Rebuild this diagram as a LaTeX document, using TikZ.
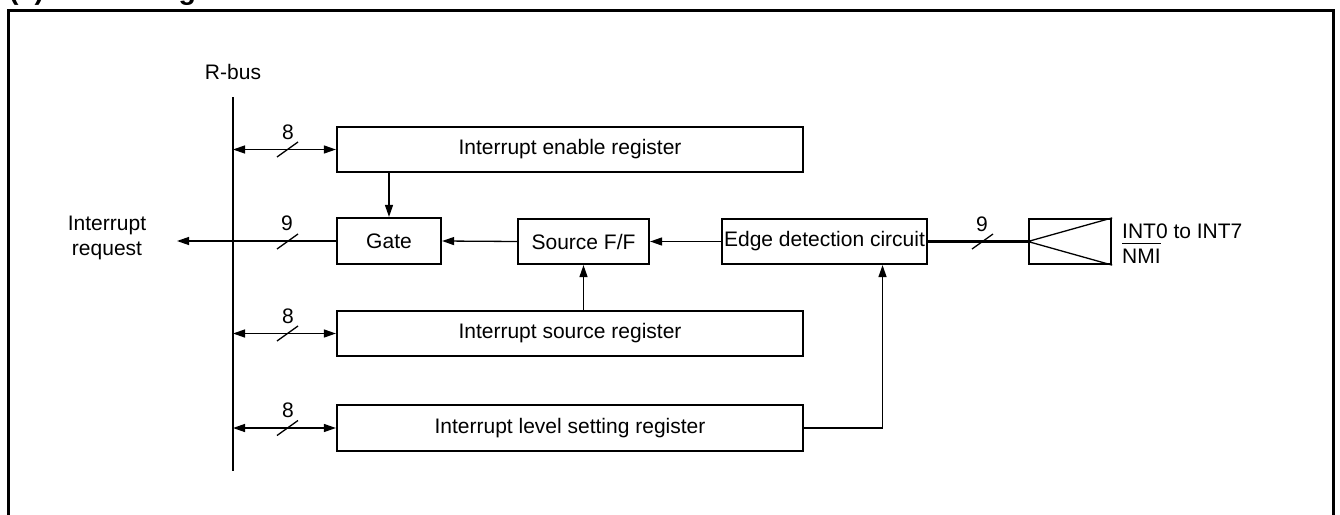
\documentclass[tikz,border=0pt]{standalone}
\usepackage{fontspec}
\setmainfont{Liberation Sans}
\usetikzlibrary{arrows.meta,calc}
\begin{document}
\begin{tikzpicture}[x=1pt,y=-1pt,
  txt/.style={font=\fontsize{21}{25.5}\selectfont},
  box/.style={draw, line width=2.2pt, inner sep=0pt, txt},
  conn/.style={line width=1.3pt},
  arr/.style={conn, -{Triangle[length=12pt,width=8pt]}},
  darr/.style={conn, {Triangle[length=12pt,width=8pt]}-{Triangle[length=12pt,width=8pt]}},
  lbl/.style={txt, inner sep=0pt},
  slash/.style={conn}
]
\useasboundingbox (0,0) rectangle (1340,514);
\clip (0,0) rectangle (1340,514);

% title (cut off at the top) and frame
\node[anchor=base west, inner sep=0pt, font=\bfseries\fontsize{28.5}{34}\selectfont] (title) at (9,-1) {(1) Block diagram};
\coordinate (f1) at (8,530);
\coordinate (f2) at (8,10.5);
\coordinate (f3) at (1333.5,10.5);
\coordinate (f4) at (1333.5,530);
\draw[line width=3pt] (f1) -- (f2) -- (f3) -- (f4);

% R-bus
\node[lbl] (rbus) at (233,72) {R-bus};
\coordinate (bt) at (233,97);
\coordinate (bb) at (233,471);
\draw[conn] (bt) -- (bb);

% blocks
\node[box, minimum width=466pt, minimum height=45pt] (ier) at (570,149.5) {Interrupt enable register};
\node[box, minimum width=104pt, minimum height=46pt] (gate) at (389,241) {Gate};
\node[box, minimum width=131pt, minimum height=45pt] (sff) at (583.5,241.5) {Source F/F};
\node[box, minimum width=205pt, minimum height=45pt] (edc) at (824.5,241.5) {Edge detection circuit};
\node[draw, line width=2.2pt, minimum width=82pt, minimum height=45pt, inner sep=0pt] (inp) at (1070,241.5) {};
\node[box, minimum width=466pt, minimum height=45pt] (isr) at (570,333.5) {Interrupt source register};
\node[box, minimum width=466pt, minimum height=46pt] (ilr) at (570,428) {Interrupt level setting register};

% bus connections
\coordinate (b1) at (233,149.5);
\coordinate (b2) at (233,333.5);
\coordinate (b3) at (233,428);
\draw[darr] (b1) -- (ier.west);
\draw[darr] (b2) -- (isr.west);
\draw[darr] (b3) -- (ilr.west);
\draw[slash] (287.5,149.5) +(-10.5,7.5) -- +(10.5,-7.5);
\draw[slash] (287.5,333.5) +(-10.5,7.5) -- +(10.5,-7.5);
\draw[slash] (287.5,428) +(-10.5,7.5) -- +(10.5,-7.5);
\node[lbl] (n8a) at (288,132) {8};
\node[lbl] (n8b) at (288,316) {8};
\node[lbl] (n8c) at (288,410) {8};

% interrupt request output
\coordinate (irq) at (177,241);
\draw[arr] (gate.west) -- (irq);
\draw[slash] (287.5,241.5) +(-10.5,7.5) -- +(10.5,-7.5);
\node[lbl] (n9a) at (287,223) {9};
\node[lbl, align=center] (irqlbl) at (107,238) {Interrupt\\request};

% internal connections
\draw[arr] (gate.north |- ier.south) -- (gate.north);
\draw[arr] (sff.west) -- (gate.east);
\draw[arr] (edc.west) -- (sff.east);
\draw[arr] (sff.south |- isr.north) -- (sff.south);
\coordinate (edcin) at ($(edc.south west)!0.78!(edc.south east)$);
\draw[arr] (ilr.east) -| (edcin);

% input pins
\draw[line width=2.2pt] (edc.east) -- (inp.west);
\draw[slash] (982.5,241.5) +(-10.5,7.5) -- +(10.5,-7.5);
\node[lbl] (n9b) at (982,224) {9};
\draw[conn] (inp.north east) -- (inp.west) -- (inp.south east);
\node[lbl, anchor=base west] (intl) at (1122,238) {INT0 to INT7};
\node[lbl, anchor=base west] (nmi) at (1122,263) {NMI};
\draw[conn] ([yshift=5pt]nmi.north west) -- ([yshift=5pt]nmi.north east);
\end{tikzpicture}
\end{document}
